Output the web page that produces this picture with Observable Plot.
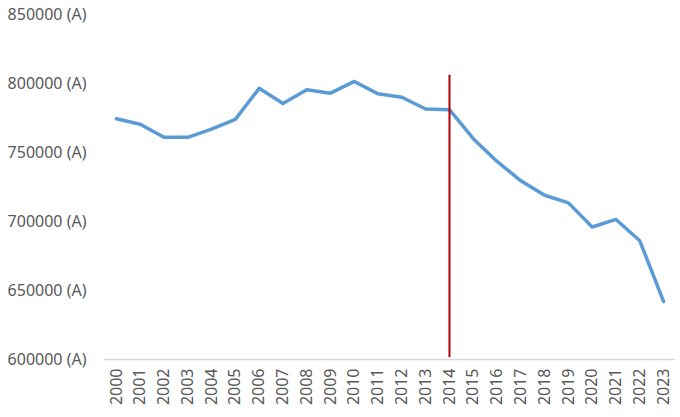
<!DOCTYPE html>
<html>
<head>
<meta charset="utf-8">
<script src="https://cdn.jsdelivr.net/npm/d3@7"></script>
<script src="https://cdn.jsdelivr.net/npm/@observablehq/plot@0.6"></script>
<style>
  html, body { margin: 0; padding: 0; background: #fff; }
  #chart svg { display: block; }
</style>
</head>
<body>
<div id="chart"></div>
<script>
const years = ["2000","2001","2002","2003","2004","2005","2006","2007","2008","2009","2010","2011","2012","2013","2014","2015","2016","2017","2018","2019","2020","2021","2022","2023"];
const values = [774500, 770500, 761000, 761000, 767000, 774000, 796500, 785500, 795500, 793000, 801500, 792500, 790000, 781500, 781000, 760000, 743500, 729500, 719000, 713500, 696000, 701500, 686000, 642000];
const yTicks = [600000, 650000, 700000, 750000, 800000, 850000];
const markerYear = "2014";
const markerBottom = 601500;
const markerTop = 806000;
const yMin = 600000, yMax = 850000;

const data = years.map((y, i) => ({year: y, value: values[i]}));

const chart = Plot.plot({
  width: 680,
  height: 417,
  marginTop: 14,
  marginBottom: 58,
  marginLeft: 104,
  marginRight: 5,
  style: {fontFamily: "Noto Sans", fontSize: "16px", color: "#595959", background: "#fff"},
  x: {type: "point", domain: years, padding: 0.5, round: false, label: null},
  y: {domain: [yMin, yMax], label: null},
  marks: [
    Plot.axisY({ticks: yTicks, tickSize: 0, tickPadding: 18, tickFormat: d => d + " (A)", fill: "#595959", fontSize: 16, label: null}),
    Plot.axisX({tickSize: 0, tickRotate: -90, tickPadding: 9, fill: "#595959", fontSize: 16, label: null}),
    Plot.ruleY([yMin], {stroke: "#D9D9D9", strokeWidth: 1.5}),
    Plot.lineY(data, {x: "year", y: "value", stroke: "#5B9BD5", strokeWidth: 3.5, strokeLinejoin: "round", strokeLinecap: "round"}),
    Plot.ruleX([markerYear], {y1: markerBottom, y2: markerTop, stroke: "#B00000", strokeWidth: 2})
  ]
});
document.getElementById("chart").appendChild(chart);
</script>
</body>
</html>
